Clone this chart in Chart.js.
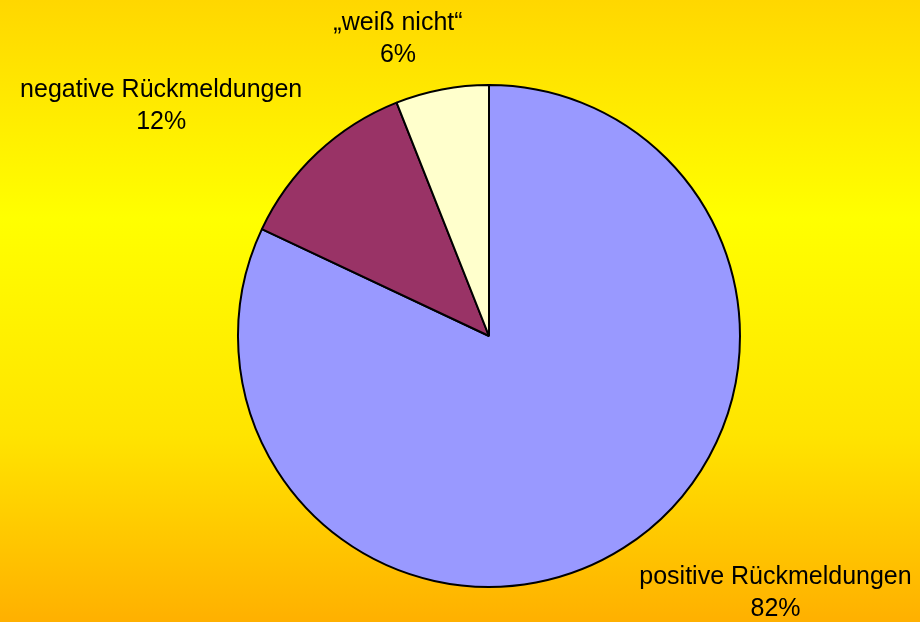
<!DOCTYPE html>
<html>
<head>
<meta charset="utf-8">
<script src="https://cdn.jsdelivr.net/npm/chart.js@4/dist/chart.umd.min.js"></script>
<style>
    html, body { margin: 0; padding: 0; overflow: hidden; }
    #wrap { width: 920px; height: 622px; position: relative; }
</style>
</head>
<body>
<div id="wrap"><canvas id="chart"></canvas></div>
<script>
"use strict";

const labels = ["positive Rückmeldungen", "negative Rückmeldungen", "„weiß nicht“"];
const shares = [82, 12, 6];
const sliceColors = ["#9999FF", "#993366", "#FFFFCC"];

// background gradient like the Office "gold" fill
const backgroundPlugin = {
    id: "bg",
    beforeDraw(chart) {
        const ctx = chart.ctx;
        const g = ctx.createLinearGradient(0, 0, 0, chart.height);
        g.addColorStop(0, "#FFD700");
        g.addColorStop(0.35, "#FFFF00");
        g.addColorStop(0.7, "#FFE400");
        g.addColorStop(1, "#FFB000");
        ctx.save();
        ctx.fillStyle = g;
        ctx.fillRect(0, 0, chart.width, chart.height);
        ctx.restore();
    }
};

// label offsets from the outer edge of each slice (mid angle)
const labelOffsets = [[152, 45], [-156, -47], [-44, -50]];

const outsideLabels = {
    id: "outsideLabels",
    afterDatasetsDraw(chart) {
        const ctx = chart.ctx;
        const meta = chart.getDatasetMeta(0);
        ctx.save();
        ctx.font = "25px 'Liberation Sans', Arial, sans-serif";
        ctx.fillStyle = "#000";
        ctx.textAlign = "center";
        ctx.textBaseline = "middle";
        meta.data.forEach((arc, i) => {
            const mid = (arc.startAngle + arc.endAngle) / 2;
            const x = arc.x + Math.cos(mid) * arc.outerRadius + labelOffsets[i][0];
            const y = arc.y + Math.sin(mid) * arc.outerRadius + labelOffsets[i][1];
            ctx.fillText(labels[i], x, y - 16);
            ctx.fillText(shares[i] + "%", x, y + 16);
        });
        ctx.restore();
    }
};

new Chart(document.getElementById("chart"), {
    type: "pie",
    data: {
        labels: labels,
        datasets: [{
            data: shares,
            backgroundColor: sliceColors,
            borderColor: "#000",
            borderWidth: 2
        }]
    },
    options: {
        responsive: true,
        maintainAspectRatio: false,
        animation: false,
        layout: {
            padding: { top: 84, bottom: 34, left: 58, right: 0 }
        },
        plugins: {
            legend: { display: false },
            tooltip: { enabled: false }
        }
    },
    plugins: [backgroundPlugin, outsideLabels]
});
</script>
</body>
</html>
